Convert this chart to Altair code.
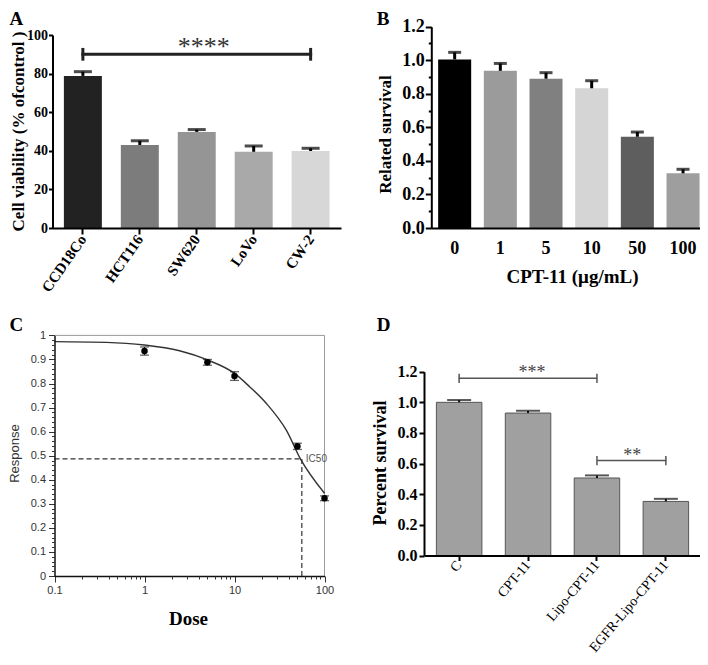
import altair as alt
import pandas as pd

# ---------------- data ----------------
# Panel A
a_cells = ["CCD18Co", "HCT116", "SW620", "LoVo", "CW-2"]
a_viability = [78.8, 43.0, 49.8, 39.5, 39.9]
a_err = [2.2, 2.2, 1.2, 3.0, 1.4]
a_colors = ["#222222", "#7c7c7c", "#959595", "#a9a9a9", "#d7d7d7"]
a_sig_from, a_sig_to, a_sig_y, a_sig_label = "CCD18Co", "CW-2", 90.0, "****"

# Panel B
b_doses = ["0", "1", "5", "10", "50", "100"]
b_survival = [1.005, 0.937, 0.890, 0.833, 0.544, 0.326]
b_err = [0.042, 0.044, 0.036, 0.045, 0.028, 0.024]
b_colors = ["#000000", "#9b9b9b", "#808080", "#d5d5d5", "#5e5e5e", "#9e9e9e"]

# Panel C
c_doses = [1, 5, 10, 50, 100]
c_response = [0.935, 0.888, 0.831, 0.539, 0.323]
c_err = [0.017, 0.012, 0.018, 0.013, 0.010]
c_fit_dose = [0.1, 0.375, 1, 2.45, 4.85, 10, 14.7, 22.5, 37.5, 54, 100]
c_fit_resp = [0.974, 0.971, 0.960, 0.936, 0.900, 0.842, 0.787, 0.718, 0.607, 0.487, 0.344]
c_ic50_dose = 56.0
c_ic50_resp = 0.487

# Panel D
d_groups = ["C", "CPT-11", "Lipo-CPT-11", "EGFR-Lipo-CPT-11"]
d_survival = [1.0, 0.93, 0.506, 0.353]
d_err = [0.015, 0.015, 0.017, 0.017]
d_sig_from = ["C", "Lipo-CPT-11"]
d_sig_to = ["Lipo-CPT-11", "EGFR-Lipo-CPT-11"]
d_sig_y = [1.157, 0.62]
d_sig_label = ["***", "**"]

# ---------------- layout ----------------
W, H = 692, 649
SERIF = "Liberation Serif"
SANS = "Liberation Sans"


def lin(domain, rng):
    return alt.Scale(domain=domain, range=rng, nice=False, zero=False)


def band(domain, rng, pi, po):
    return alt.Scale(domain=domain, range=rng, paddingInner=pi, paddingOuter=po)


def ax(**kw):
    base = dict(grid=False, zindex=1, domainColor="black", tickColor="black",
                labelColor="black", titleColor="black")
    base.update(kw)
    return alt.Axis(**base)


layers = []

# ================= Panel A =================
xA = band(a_cells, [44.5, 333], 0.333, 0.2)
yA = lin([0, 100], [220, 27])
dfA = pd.DataFrame({"cell": a_cells, "value": a_viability,
                    "upper": [v + e for v, e in zip(a_viability, a_err)]})
axA_x = ax(orient="bottom", offset=220 - H, title=None, labelAngle=-55, labelFont=SERIF,
           labelFontSize=15, labelFontWeight="bold", labelPadding=2, tickSize=6,
           tickWidth=2, domainWidth=2)
axA_y = ax(orient="left", offset=-44.5, values=[0, 20, 40, 60, 80, 100], format="d",
           labelFont=SERIF, labelFontSize=14, labelFontWeight="bold", labelPadding=1,
           labelFlush=False, tickSize=4, tickWidth=2, domainWidth=2,
           title="Cell viability (% ofcontrol )", titleFont=SERIF, titleFontSize=17,
           titleFontWeight="bold", titleX=-34, titleY=123, titleAngle=-90,
           titleAlign="center", titleBaseline="middle")
layers.append(alt.Chart(dfA).mark_bar().encode(
    x=alt.X("cell:N", scale=xA, axis=axA_x),
    y=alt.Y("value:Q", scale=yA, axis=axA_y),
    color=alt.Color("cell:N", scale=alt.Scale(domain=a_cells, range=a_colors), legend=None),
))
layers.append(alt.Chart(dfA).mark_rule(color="black", strokeWidth=3).encode(
    x=alt.X("cell:N", scale=xA, axis=None),
    y=alt.Y("value:Q", scale=yA, axis=None), y2="upper:Q"))
layers.append(alt.Chart(dfA).mark_tick(color="black", thickness=3, size=18, orient="horizontal").encode(
    x=alt.X("cell:N", scale=xA, axis=None),
    y=alt.Y("upper:Q", scale=yA, axis=None)))
sigA = pd.DataFrame({"cell": [a_sig_from, a_sig_to], "y": [a_sig_y, a_sig_y],
                     "lo": [a_sig_y - 3.3, a_sig_y - 3.3], "hi": [a_sig_y + 3.3, a_sig_y + 3.3]})
layers.append(alt.Chart(sigA).mark_line(color="#222222", strokeWidth=3).encode(
    x=alt.X("cell:N", scale=xA, axis=None), y=alt.Y("y:Q", scale=yA, axis=None)))
layers.append(alt.Chart(sigA).mark_rule(color="#222222", strokeWidth=3).encode(
    x=alt.X("cell:N", scale=xA, axis=None), y=alt.Y("lo:Q", scale=yA, axis=None), y2="hi:Q"))
layers.append(alt.Chart(pd.DataFrame({"cell": [a_cells[2]], "y": [a_sig_y], "t": [a_sig_label]})).mark_text(
    font=SERIF, fontSize=26, color="#333333", dx=7, dy=1, baseline="alphabetic").encode(
    x=alt.X("cell:N", scale=xA, axis=None), y=alt.Y("y:Q", scale=yA, axis=None), text="t:N"))

# ================= Panel B =================
xB_args = (b_doses, [423.3, 698.4], 0.277, 0.15)
yB_args = ([0, 1.2], [220, 18.7])
dfB = pd.DataFrame({"dose": b_doses, "value": b_survival,
                    "upper": [v + e for v, e in zip(b_survival, b_err)]})
axB_x = ax(orient="bottom", offset=220 - H, labelAngle=0, labelFont=SERIF, labelFontSize=18,
           labelFontWeight="bold", ticks=False, tickSize=0, labelPadding=11, domainWidth=2,
           title="CPT-11 (μg/mL)", titleFont=SERIF, titleFontSize=19, titleFontWeight="bold",
           titleX=564, titleY=48.7, titleAlign="center", titleBaseline="middle")
axB_y = ax(orient="left", offset=-423.3, values=[0, 0.2, 0.4, 0.6, 0.8, 1.0, 1.2], format=".1f",
           labelFont=SERIF, labelFontSize=18, labelFontWeight="bold", labelPadding=1,
           labelFlush=False, tickSize=6, tickWidth=2, domainWidth=2,
           title="Related survival", titleFont=SERIF, titleFontSize=17, titleFontWeight="bold",
           titleX=-45.6, titleY=126, titleAngle=-90, titleAlign="center", titleBaseline="middle")
layers.append(alt.Chart(dfB).mark_bar().encode(
    x=alt.X("dose:N", scale=band(*xB_args), axis=axB_x),
    y=alt.Y("value:Q", scale=lin(*yB_args), axis=axB_y),
    color=alt.Color("dose:N", scale=alt.Scale(domain=b_doses, range=b_colors), legend=None),
))
layers.append(alt.Chart(dfB).mark_rule(color="black", strokeWidth=3).encode(
    x=alt.X("dose:N", scale=band(*xB_args), axis=None),
    y=alt.Y("value:Q", scale=lin(*yB_args), axis=None), y2="upper:Q"))
layers.append(alt.Chart(dfB).mark_tick(color="black", thickness=3, size=13, orient="horizontal").encode(
    x=alt.X("dose:N", scale=band(*xB_args), axis=None),
    y=alt.Y("upper:Q", scale=lin(*yB_args), axis=None)))
b_minor = [0.1, 0.3, 0.5, 0.7, 0.9, 1.1]
layers.append(alt.Chart(pd.DataFrame({"v": b_minor})).mark_point(opacity=0).encode(
    y=alt.Y("v:Q", scale=lin(*yB_args),
            axis=ax(orient="left", offset=-423.3, values=b_minor, labels=False, domain=False,
                    tickSize=3, tickWidth=2, title=None))))

# ================= Panel C =================
def xC():
    return alt.Scale(type="log", domain=[0.1, 100], range=[46.5, 316.5], nice=False)


yC_args = ([0, 1], [568, 327.4])
dfFit = pd.DataFrame({"dose": c_fit_dose, "resp": c_fit_resp})
dfC = pd.DataFrame({"dose": c_doses, "resp": c_response,
                    "lo": [r - e for r, e in zip(c_response, c_err)],
                    "hi": [r + e for r, e in zip(c_response, c_err)]})
axC_x = ax(orient="bottom", offset=568 - H, values=[0.1, 1, 10, 100], format="~g",
           labelFont=SANS, labelFontSize=11, labelColor="#333333", labelFlush=False,
           labelPadding=2, tickSize=6, tickWidth=1, tickColor="#333333", domainWidth=1.5,
           domainColor="#111111",
           title="Dose", titleFont=SERIF, titleFontSize=19, titleFontWeight="bold",
           titleX=180, titleY=42, titleAlign="center", titleBaseline="middle")
axC_y = ax(orient="left", offset=-46.5,
           values=[0, 0.1, 0.2, 0.3, 0.4, 0.5, 0.6, 0.7, 0.8, 0.9, 1], format="~g",
           labelFont=SANS, labelFontSize=11, labelColor="#333333", labelFlush=False,
           labelPadding=3, tickSize=6, tickWidth=1, tickColor="#333333", domainWidth=1.5,
           domainColor="#111111",
           title="Response", titleFont=SANS, titleFontSize=13, titleFontWeight="normal",
           titleColor="#333333", titleX=-40, titleY=445, titleAngle=-90,
           titleAlign="center", titleBaseline="middle")
frame = pd.DataFrame({"x1": [0.1, 100], "x2": [100, 100], "y1": [1, 0], "y2": [1, 1]})
layers.append(alt.Chart(frame).mark_rule(color="#9a9a9a", strokeWidth=1).encode(
    x=alt.X("x1:Q", scale=xC(), axis=None), x2="x2:Q",
    y=alt.Y("y1:Q", scale=lin(*yC_args), axis=None), y2="y2:Q"))
icC = pd.DataFrame({"x1": [0.1, c_ic50_dose], "x2": [c_ic50_dose, c_ic50_dose],
                    "y1": [c_ic50_resp, 0], "y2": [c_ic50_resp, c_ic50_resp]})
layers.append(alt.Chart(icC).mark_rule(color="#333333", strokeWidth=1.2, strokeDash=[5, 3]).encode(
    x=alt.X("x1:Q", scale=xC(), axis=None), x2="x2:Q",
    y=alt.Y("y1:Q", scale=lin(*yC_args), axis=None), y2="y2:Q"))
layers.append(alt.Chart(dfFit).mark_line(color="#333333", strokeWidth=1.4, interpolate="monotone").encode(
    x=alt.X("dose:Q", scale=xC(), axis=axC_x),
    y=alt.Y("resp:Q", scale=lin(*yC_args), axis=axC_y)))
layers.append(alt.Chart(dfC).mark_rule(color="#222222", strokeWidth=1.3).encode(
    x=alt.X("dose:Q", scale=xC(), axis=None),
    y=alt.Y("lo:Q", scale=lin(*yC_args), axis=None), y2="hi:Q"))
for col in ("lo", "hi"):
    layers.append(alt.Chart(dfC).mark_tick(color="#222222", thickness=1.3, size=9, orient="horizontal").encode(
        x=alt.X("dose:Q", scale=xC(), axis=None), y=alt.Y(f"{col}:Q", scale=lin(*yC_args), axis=None)))
layers.append(alt.Chart(dfC).mark_circle(color="black", size=42, opacity=1).encode(
    x=alt.X("dose:Q", scale=xC(), axis=None), y=alt.Y("resp:Q", scale=lin(*yC_args), axis=None)))
layers.append(alt.Chart(pd.DataFrame({"x": [c_ic50_dose], "y": [c_ic50_resp], "t": ["IC50"]})).mark_text(
    font=SANS, fontSize=10, color="#555555", align="left", baseline="middle", dx=4).encode(
    x=alt.X("x:Q", scale=xC(), axis=None), y=alt.Y("y:Q", scale=lin(*yC_args), axis=None), text="t:N"))

c_minor_y = [round(k * 0.02, 2) for k in range(51) if k % 5]
c_minor_x = [m * 10.0 ** e for e in (-1, 0, 1) for m in range(2, 10)]
layers.append(alt.Chart(pd.DataFrame({"v": c_minor_y})).mark_point(opacity=0).encode(
    y=alt.Y("v:Q", scale=lin(*yC_args),
            axis=ax(orient="left", offset=-46.5, values=c_minor_y, labels=False, domain=False,
                    tickSize=3, tickWidth=1, tickColor="#333333", title=None))))
layers.append(alt.Chart(pd.DataFrame({"v": c_minor_x})).mark_point(opacity=0).encode(
    x=alt.X("v:Q", scale=xC(),
            axis=ax(orient="bottom", offset=568 - H, values=c_minor_x, labels=False, domain=False,
                    tickSize=3, tickWidth=1, tickColor="#333333", title=None))))

# ================= Panel D =================
xD_args = (d_groups, [416, 693], 0.34, 0.18)
yD_args = ([0, 1.2], [547.5, 363.7])
dfD = pd.DataFrame({"grp": d_groups, "value": d_survival,
                    "upper": [v + e for v, e in zip(d_survival, d_err)]})
axD_x = ax(orient="bottom", offset=547.5 - H, title=None, labelAngle=-50, labelFont=SERIF,
           labelFontSize=14, labelFontWeight="normal", labelPadding=2, tickSize=5,
           tickWidth=2, domainWidth=2)
axD_y = ax(orient="left", offset=-416, values=[0, 0.2, 0.4, 0.6, 0.8, 1.0, 1.2], format=".1f",
           labelFont=SERIF, labelFontSize=16, labelFontWeight="bold", labelPadding=2,
           labelFlush=False, tickSize=5, tickWidth=2, domainWidth=2,
           title="Percent survival", titleFont=SERIF, titleFontSize=18, titleFontWeight="bold",
           titleX=-43.3, titleY=454.5, titleAngle=-90, titleAlign="center", titleBaseline="middle")
layers.append(alt.Chart(dfD).mark_bar(color="#a0a0a0", stroke="#555555", strokeWidth=1).encode(
    x=alt.X("grp:N", scale=band(*xD_args), axis=axD_x),
    y=alt.Y("value:Q", scale=lin(*yD_args), axis=axD_y)))
layers.append(alt.Chart(dfD).mark_rule(color="#111111", strokeWidth=2).encode(
    x=alt.X("grp:N", scale=band(*xD_args), axis=None),
    y=alt.Y("value:Q", scale=lin(*yD_args), axis=None), y2="upper:Q"))
layers.append(alt.Chart(dfD).mark_tick(color="#111111", thickness=2, size=24, orient="horizontal").encode(
    x=alt.X("grp:N", scale=band(*xD_args), axis=None),
    y=alt.Y("upper:Q", scale=lin(*yD_args), axis=None)))
sigD = pd.DataFrame({"grp": d_sig_from + d_sig_to, "y": d_sig_y + d_sig_y, "pair": [0, 1, 0, 1]})
sigD["lo"] = sigD["y"] - 0.03
sigD["hi"] = sigD["y"] + 0.03
layers.append(alt.Chart(sigD).mark_line(color="#555555", strokeWidth=1.5).encode(
    x=alt.X("grp:N", scale=band(*xD_args), axis=None), y=alt.Y("y:Q", scale=lin(*yD_args), axis=None),
    detail="pair:N"))
layers.append(alt.Chart(sigD).mark_rule(color="#555555", strokeWidth=1.5).encode(
    x=alt.X("grp:N", scale=band(*xD_args), axis=None), y=alt.Y("lo:Q", scale=lin(*yD_args), axis=None),
    y2="hi:Q"))
for grp, yv, lab, dx in ((d_groups[1], d_sig_y[0], d_sig_label[0], 4),
                         (d_groups[2], d_sig_y[1], d_sig_label[1], 35)):
    layers.append(alt.Chart(pd.DataFrame({"grp": [grp], "y": [yv], "t": [lab]})).mark_text(
        font=SERIF, fontSize=18, color="#444444", dx=dx, dy=0, baseline="alphabetic").encode(
        x=alt.X("grp:N", scale=band(*xD_args), axis=None),
        y=alt.Y("y:Q", scale=lin(*yD_args), axis=None), text="t:N"))

# ================= Panel letters =================
one = pd.DataFrame({"k": [0]})
for t, x, y in (("A", 1.5, 17), ("B", 368.7, 17), ("C", 1.5, 323), ("D", 368.7, 323)):
    layers.append(alt.Chart(one).mark_text(font=SERIF, fontSize=19, fontWeight="bold", color="black",
                                           align="left", baseline="alphabetic").encode(
        x=alt.value(x), y=alt.value(y), text=alt.value(t)))

chart = alt.layer(*layers).resolve_scale(
    x="independent", y="independent", color="independent"
).resolve_axis(
    x="independent", y="independent"
).properties(
    width=W, height=H, padding=0, autosize=alt.AutoSizeParams(type="none")
).configure_view(stroke=None)

chart.save("out.html", embed_options={"renderer": "svg", "actions": False})
